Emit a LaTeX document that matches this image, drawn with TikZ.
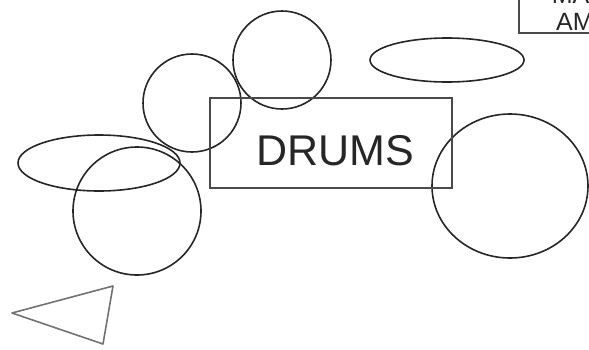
\documentclass[tikz,border=0pt]{standalone}
\usepackage{fontspec}
\setmainfont{Liberation Sans}
\usetikzlibrary{positioning}
\definecolor{ink}{HTML}{262626}
\definecolor{frame}{HTML}{4A4A4A}

\begin{document}
\begin{tikzpicture}[x=1pt,y=-1pt,
  kit/.style={draw=ink,line width=1.6pt},
  label box/.style={draw=frame,line width=1.6pt},
  label text/.style={text=ink,inner sep=0pt}]
  \useasboundingbox (0,0) rectangle (589,349);
  \clip (0,0) rectangle (589,349);
  % drum kit pieces
  \draw[kit] (282,60) circle (49);
  \draw[kit] (192,103) circle (49);
  \draw[kit] (447,60) ellipse (77 and 22);
  \draw[kit] (99,163) ellipse (81 and 28);
  \draw[kit] (137,211) circle (64);
  \draw[kit] (510,186) ellipse (78 and 72);
  \node[label box,minimum width=242,minimum height=90,anchor=north west]
    (drums) at (209,97) {};
  \node[label text,font=\fontsize{43}{43}\selectfont,anchor=base]
    (drums text) at (335.5,165) {DRUMS};
  % amp
  \draw[label box] (519,-40) |- (660,33);
  \node[label text,font=\fontsize{25}{27}\selectfont,anchor=base]
    (amp top) at (583,3) {MAIN};
  \node[label text,font=\fontsize{25}{27}\selectfont,anchor=base west]
    (amp) at (556,30) {AMP};
  % floor wedge
  \draw[draw=ink!65,line width=1.6pt,line join=round]
    (12,313) -- (113,286) -- (103,344) -- cycle;
\end{tikzpicture}
\end{document}
